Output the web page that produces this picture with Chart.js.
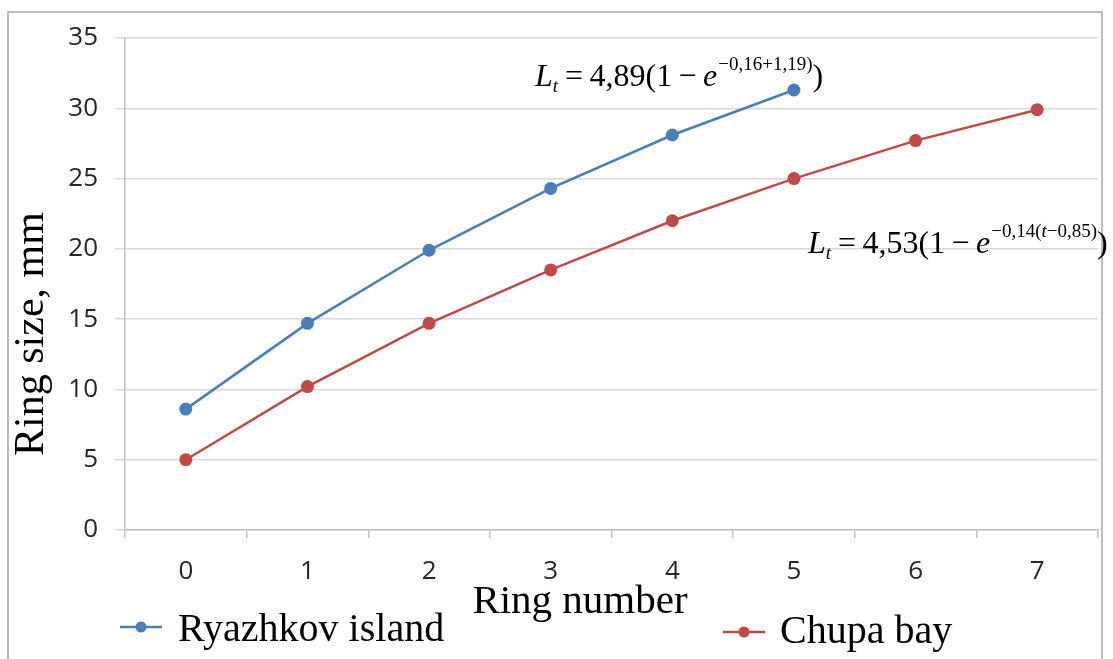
<!DOCTYPE html>
<html>
<head>
<meta charset="utf-8">
<script src="https://cdn.jsdelivr.net/npm/chart.js@4.4.1/dist/chart.umd.min.js"></script>
<style>
  html, body { margin: 0; padding: 0; background: #ffffff; }
  #wrap { position: relative; width: 1113px; height: 659px; }
</style>
</head>
<body>
<div id="wrap"><canvas id="chart"></canvas></div>
<script>
// Ring number on the x axis
const rings = ['0', '1', '2', '3', '4', '5', '6', '7'];
// Ring size (mm) for each locality
const ryazhkov = [8.6, 14.7, 19.9, 24.3, 28.1, 31.3];
const chupa = [5.0, 10.2, 14.7, 18.5, 22.0, 25.0, 27.7, 29.9];
// Y axis range and step
const yTicks = { min: 0, max: 35, step: 5 };

const seriesNames = ['Ryazhkov island', 'Chupa bay'];
const blue = '#4a7ebb';
const red = '#be4b48';
const serif = '"Liberation Serif", "Times New Roman", serif';

// Frame around the figure
const framePlugin = {
  id: 'frame',
  beforeDraw(chart) {
    const ctx = chart.ctx;
    ctx.save();
    ctx.fillStyle = '#ffffff';
    ctx.fillRect(0, 0, chart.width, chart.height);
    ctx.strokeStyle = '#a6a6a6';
    ctx.lineWidth = 1.5;
    ctx.beginPath();
    ctx.moveTo(8, chart.height);
    ctx.lineTo(8, 12);
    ctx.lineTo(1102, 12);
    ctx.lineTo(1102, chart.height);
    ctx.stroke();
    ctx.restore();
  }
};

// Draws a run of text pieces with their own style and vertical offset
function drawRuns(ctx, x, y, runs) {
  let cx = x;
  runs.forEach(r => {
    ctx.font = (r.italic ? 'italic ' : '') + r.size + 'px ' + serif;
    ctx.fillText(r.text, cx, y + (r.dy || 0));
    cx += ctx.measureText(r.text).width + (r.gap || 0);
  });
}

// Axis titles, legend and fitted equations
const annotatePlugin = {
  id: 'annotate',
  afterDraw(chart) {
    const ctx = chart.ctx;
    ctx.save();
    ctx.fillStyle = '#000000';
    ctx.textBaseline = 'alphabetic';

    // y axis title
    ctx.save();
    ctx.translate(43, 334);
    ctx.rotate(-Math.PI / 2);
    ctx.textAlign = 'center';
    ctx.font = '42px ' + serif;
    ctx.fillText('Ring size, mm', 0, 0);
    ctx.restore();

    // x axis title
    ctx.textAlign = 'center';
    ctx.font = '41px ' + serif;
    ctx.fillText('Ring number', 580, 613);

    // legend
    ctx.textAlign = 'left';
    const legend = [
      { ds: 0, x: 120, y: 627, tx: 178, ty: 641 },
      { ds: 1, x: 723, y: 632, tx: 780, ty: 643 }
    ];
    legend.forEach(l => {
      const ds = chart.data.datasets[l.ds];
      ctx.strokeStyle = ds.borderColor;
      ctx.lineWidth = 2.5;
      ctx.beginPath();
      ctx.moveTo(l.x, l.y);
      ctx.lineTo(l.x + 42, l.y);
      ctx.stroke();
      ctx.fillStyle = ds.backgroundColor;
      ctx.beginPath();
      ctx.arc(l.x + 21, l.y, 5.5, 0, Math.PI * 2);
      ctx.fill();
      ctx.fillStyle = '#000000';
      ctx.font = '40px ' + serif;
      ctx.fillText(ds.label, l.tx, l.ty);
    });

    // fitted growth equations
    const big = 32, small = 19;
    const thin = '\u2009';
    drawRuns(ctx, 535, 86, [
      { text: 'L', italic: true, size: big },
      { text: 't', italic: true, size: small, dy: 6, gap: 7 },
      { text: '=' + thin + '4,89(1' + thin + '\u2212' + thin, size: big },
      { text: 'e', italic: true, size: big, gap: 1 },
      { text: '\u22120,16+1,19)', size: small, dy: -16 },
      { text: ')', size: big }
    ]);
    drawRuns(ctx, 808, 253, [
      { text: 'L', italic: true, size: big },
      { text: 't', italic: true, size: small, dy: 6, gap: 7 },
      { text: '=' + thin + '4,53(1' + thin + '\u2212' + thin, size: big },
      { text: 'e', italic: true, size: big, gap: 1 },
      { text: '\u22120,14(', size: small, dy: -16 },
      { text: 't', italic: true, size: small, dy: -16 },
      { text: '\u22120,85)', size: small, dy: -16 },
      { text: ')', size: big }
    ]);
    ctx.restore();
  }
};

new Chart(document.getElementById('chart'), {
  type: 'line',
  data: {
    labels: rings,
    datasets: [
      {
        label: seriesNames[0],
        data: ryazhkov,
        borderColor: blue,
        backgroundColor: blue,
        borderWidth: 2.5,
        pointRadius: 6.5,
        pointBorderWidth: 0,
        tension: 0
      },
      {
        label: seriesNames[1],
        data: chupa,
        borderColor: red,
        backgroundColor: red,
        borderWidth: 2.5,
        pointRadius: 6.5,
        pointBorderWidth: 0,
        tension: 0
      }
    ]
  },
  options: {
    responsive: true,
    maintainAspectRatio: false,
    animation: false,
    layout: { padding: { top: 38, right: 15, left: 0, bottom: 0 } },
    plugins: {
      legend: { display: false },
      tooltip: { enabled: false }
    },
    scales: {
      x: {
        type: 'category',
        offset: true,
        grid: {
          offset: true,
          drawOnChartArea: false,
          drawTicks: true,
          tickLength: 8,
          color: '#bfbfbf',
          lineWidth: 1.5
        },
        border: { color: '#bfbfbf', width: 1.5 },
        ticks: {
          color: '#262626',
          padding: 18,
          font: { family: '"Open Sans", sans-serif', size: 26 }
        },
        afterFit(scale) { scale.height = 129; }
      },
      y: {
        min: yTicks.min,
        max: yTicks.max,
        ticks: {
          stepSize: yTicks.step,
          color: '#262626',
          padding: 17,
          font: { family: '"Open Sans", sans-serif', size: 26 }
        },
        grid: {
          color: '#d9d9d9',
          lineWidth: 1.5,
          tickLength: 10
        },
        border: { color: '#bfbfbf', width: 1.5 },
        afterFit(scale) { scale.width = 125; }
      }
    }
  },
  plugins: [framePlugin, annotatePlugin]
});
</script>
</body>
</html>
